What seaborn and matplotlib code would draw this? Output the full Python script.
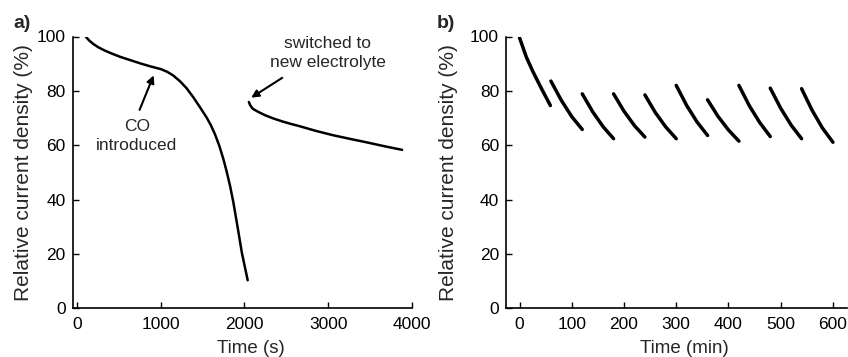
import matplotlib
matplotlib.use("Agg")
import matplotlib.pyplot as plt
import seaborn as sns
import pandas as pd

# ---- Data ----
# Panel a: before and after switching electrolyte (time in s, relative current density in %)
a1_time = [107, 150, 200, 260, 330, 420, 520, 640, 760, 880, 1004, 1080, 1150, 1230, 1310,
           1390, 1470, 1550, 1600, 1650, 1700, 1750, 1790, 1830, 1870, 1920, 1970, 2040]
a1_value = [100, 98.5, 97.2, 96.0, 94.9, 93.7, 92.5, 91.3, 90.1, 89.0, 88.0, 87.0, 85.7, 83.6, 81.0,
            77.7, 74.0, 70.2, 67.4, 64.0, 59.9, 54.9, 50.2, 45.0, 38.8, 29.8, 20.5, 10.3]
a2_time = [2054, 2070, 2101, 2170, 2250, 2350, 2459, 2560, 2659, 2850, 3055, 3250, 3453, 3660, 3882]
a2_value = [75.9, 74.7, 73.4, 72.2, 71.0, 69.8, 68.7, 67.8, 67.0, 65.3, 63.7, 62.4, 61.1, 59.7, 58.3]

# Panel b: ten 60-min cycles (time in min, relative current density in %)
b_time = [
    [0, 13, 26, 42, 59],
    [60, 80, 100, 120],
    [120, 140, 160, 180],
    [180, 200, 220, 240],
    [240, 260, 280, 300],
    [300, 320, 340, 360],
    [360, 380, 400, 420],
    [420, 440, 460, 480],
    [480, 500, 520, 540],
    [540, 560, 580, 600],
]
b_value = [
    [99.5, 92.4, 86.9, 80.8, 74.6],
    [83.6, 76.5, 70.5, 65.8],
    [78.9, 72.3, 66.8, 62.4],
    [78.9, 72.5, 67.2, 63.0],
    [78.5, 72.0, 66.7, 62.4],
    [82.0, 74.6, 68.5, 63.6],
    [76.7, 70.6, 65.6, 61.5],
    [82.0, 74.5, 68.3, 63.2],
    [81.0, 73.6, 67.4, 62.4],
    [80.8, 72.9, 66.3, 61.1],
]

x_ticks_a = [0, 1000, 2000, 3000, 4000]
x_ticks_b = [0, 100, 200, 300, 400, 500, 600]
y_ticks = [0, 20, 40, 60, 80, 100]

# ---- Style ----
sns.set_theme(style="ticks")
plt.rcParams["font.family"] = ["Liberation Sans", "DejaVu Sans"]
plt.rcParams["axes.linewidth"] = 1.2

fig = plt.figure(figsize=(8.48, 3.57), dpi=100)
ax_a = fig.add_axes([72.5 / 848, 1 - 308.3 / 357, (412 - 72.5) / 848, (308.3 - 36.5) / 357])
ax_b = fig.add_axes([506 / 848, 1 - 308.3 / 357, (846.5 - 506) / 848, (308.3 - 36.5) / 357])

df_a1 = pd.DataFrame({"t": a1_time, "v": a1_value})
df_a2 = pd.DataFrame({"t": a2_time, "v": a2_value})
sns.lineplot(data=df_a1, x="t", y="v", ax=ax_a, color="black", lw=1.8, sort=False)
sns.lineplot(data=df_a2, x="t", y="v", ax=ax_a, color="black", lw=1.8, sort=False)

rows = []
for i, (ts, vs) in enumerate(zip(b_time, b_value)):
    for t, v in zip(ts, vs):
        rows.append({"t": t, "v": v, "seg": i})
df_b = pd.DataFrame(rows)
sns.lineplot(data=df_b, x="t", y="v", units="seg", estimator=None, ax=ax_b,
             color="black", lw=2.5, sort=False)

for ax, xt, xl, lab in [(ax_a, x_ticks_a, (-50, 4000), "Time (s)"),
                        (ax_b, x_ticks_b, (-26, 626), "Time (min)")]:
    ax.set_xlim(*xl)
    ax.set_ylim(0, 100)
    ax.set_xticks(xt)
    ax.set_yticks(y_ticks)
    ax.tick_params(direction="in", length=4, width=1, labelsize=12.5, colors="black", pad=5)
    ax.tick_params(axis="x", pad=6)
    sns.despine(ax=ax)
    for s in ("left", "bottom"):
        ax.spines[s].set_color("black")
    ax.set_xlabel(lab, fontsize=13.5)
    ax.set_ylabel("Relative current density (%)", fontsize=15)
    ax.xaxis.set_label_coords(0.525, -0.115)

ax_a.yaxis.set_label_coords(-0.115, 0.5)
ax_b.yaxis.set_label_coords(-0.14, 0.5)

arrow = dict(arrowstyle="-|>", color="black", lw=1.5, mutation_scale=11, shrinkA=0, shrinkB=0)
ax_a.annotate("", xy=(918, 85.7), xytext=(750, 73), arrowprops=arrow)
ax_a.text(715, 63.3, "CO\nintroduced", ha="center", va="center", fontsize=12.5, linespacing=1.35)
ax_a.annotate("", xy=(2082, 77.5), xytext=(2452, 84.8), arrowprops=arrow)
ax_a.text(2993, 93.9, "switched to\nnew electrolyte", ha="center", va="center", fontsize=12.5, linespacing=1.35)

fig.text(13 / 848, 1 - 23 / 357, "a)", fontsize=14, fontweight="bold", va="center", ha="left")
fig.text(437 / 848, 1 - 23 / 357, "b)", fontsize=14, fontweight="bold", va="center", ha="left")

fig.savefig("out.png", dpi=100)
